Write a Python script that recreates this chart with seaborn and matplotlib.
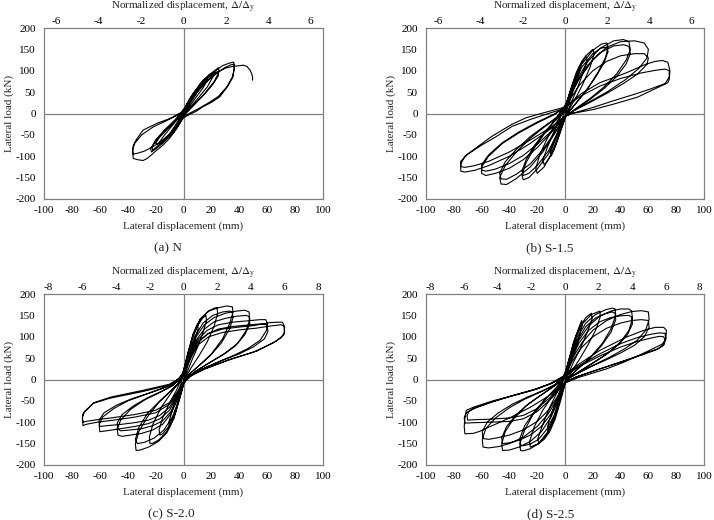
import matplotlib
matplotlib.use("Agg")
import matplotlib.pyplot as plt
import pandas as pd
import seaborn as sns

# hysteresis paths: (lateral displacement mm, lateral load kN)
n_path = [
    (0, 0), (2, 18), (5, 38), (6, 40), (5, 30), (2, 10), (0, -3), (-2, -18), (-5, -35), (-6, -36), (-5, -26), (-2, -8), (0, 3),
    (3, 25), (7, 48), (10, 60), (11, 58), (9, 45), (5, 25), (2, 8), (0, -5), (-3, -25), (-7, -45), (-10, -55), (-11, -52),
    (-8, -38), (-4, -18), (-1, -2), (0, 5),
    (4, 30), (9, 55), (13, 72), (16, 82), (17, 78), (14, 60), (9, 38), (4, 15), (0, -5), (-4, -28), (-9, -50), (-13, -63),
    (-16, -70), (-17, -66), (-14, -52), (-9, -32), (-4, -12), (0, 5),
    (5, 35), (10, 60), (15, 80), (20, 92), (21, 85), (17, 62), (11, 38), (5, 15), (0, -5), (-5, -30), (-10, -50), (-15, -65),
    (-19, -72), (-20, -70), (-17, -55), (-11, -35), (-5, -15), (0, 5),
    (6, 40), (12, 70), (18, 90), (23, 102), (25, 107), (25.5, 98), (22, 75), (16, 50), (9, 25), (3, 5), (0, -5), (-5, -30),
    (-10, -52), (-15, -70), (-20, -83), (-23, -90), (-23.5, -82), (-20, -62), (-14, -40), (-7, -18), (0, 5),
    (6, 38), (12, 65), (18, 85), (23, 96), (25, 98), (25, 88), (21, 68), (15, 45), (8, 22), (3, 5), (0, -5), (-5, -28),
    (-10, -50), (-15, -66), (-20, -80), (-22, -86), (-22.5, -78), (-19, -60), (-13, -38), (-6, -16), (0, 10),
    (6, 40), (11.6, 62), (17, 82), (23.5, 101), (28, 112), (33, 118), (36, 120), (36.5, 112), (36, 100), (35.5, 86),
    (32, 65), (26, 39), (20, 26), (14, 16), (9, 5), (4, -3), (0, -10), (-5, -35), (-10, -58), (-15, -75), (-20, -88),
    (-23, -97), (-26, -105), (-29, -110), (-33, -108), (-36, -105), (-36.5, -90), (-36, -75), (-34, -62), (-29, -39),
    (-19, -23), (-10, -12), (0, 5),
    (6, 35), (12, 58), (18, 78), (24, 95), (30, 108), (34, 114), (36, 115), (36.5, 105), (35, 85), (31, 62), (25, 40),
    (18, 25), (10, 10), (4, 0), (0, -8), (-5, -30), (-10, -48), (-16, -65), (-22, -78), (-28, -88), (-33, -93), (-36, -95),
    (-36.5, -85), (-35, -70), (-30, -50), (-22, -32), (-13, -18), (-5, -5), (0, 5),
    (6, 35), (12, 60), (18, 80), (24, 96), (30, 106), (35, 110), (40, 112), (43, 113), (45.5, 110), (47.8, 101), (49, 92),
    (49.5, 85), (49.5, 78),
]

s15_path = [
    (0, 0), (3, 40), (6, 72), (9, 98), (10, 108), (10.5, 100), (8, 75), (5, 45), (2, 15), (0, -8), (-3, -38), (-6, -68),
    (-9, -93), (-10, -100), (-10.5, -92), (-8, -68), (-5, -40), (-2, -12), (0, 10),
    (4, 55), (8, 95), (12, 122), (15, 134), (16, 125), (13, 95), (9, 60), (5, 30), (2, 5), (0, -12), (-4, -50), (-8, -85),
    (-12, -108), (-15, -120), (-16, -110), (-13, -82), (-9, -50), (-5, -22), (-2, 0), (0, 15),
    (5, 65), (10, 105), (15, 135), (20, 150), (21, 140), (18, 108), (13, 70), (8, 38), (3, 10), (0, -10), (-5, -55),
    (-10, -95), (-15, -125), (-20, -140), (-21, -128), (-18, -95), (-13, -60), (-8, -30), (-3, -5), (0, 15),
    (6, 70), (12, 115), (20, 148), (26, 162), (30, 165), (31, 155), (29, 130), (24, 98), (17, 62), (10, 32), (4, 8),
    (0, -10), (-6, -55), (-12, -95), (-20, -130), (-26, -150), (-30, -155), (-31, -145), (-28, -115), (-22, -80),
    (-15, -48), (-8, -20), (-2, 0), (0, 15),
    (6, 65), (12, 108), (20, 140), (26, 153), (30, 155), (31, 145), (28, 118), (22, 85), (15, 52), (8, 25), (3, 5),
    (0, -10), (-6, -50), (-12, -88), (-20, -122), (-26, -140), (-30, -145), (-31, -135), (-28, -108), (-22, -75),
    (-15, -45), (-8, -18), (-2, 2), (0, 18),
    (8, 75), (16, 120), (25, 152), (35, 170), (42, 173), (46, 168), (47, 150), (44, 125), (37, 92), (28, 62), (18, 35),
    (8, 12), (0, -8), (-8, -50), (-16, -90), (-25, -125), (-35, -152), (-42, -166), (-46, -165), (-47, -150), (-43, -122),
    (-35, -90), (-25, -58), (-15, -32), (-6, -10), (0, 18),
    (8, 70), (16, 112), (25, 142), (35, 158), (42, 161), (46, 157), (47, 140), (44, 116), (37, 86), (28, 58), (18, 33),
    (8, 11), (0, -8), (-8, -47), (-16, -85), (-25, -118), (-35, -142), (-42, -154), (-46, -153), (-47, -140), (-43, -113),
    (-35, -84), (-25, -54), (-15, -30), (-6, -9), (0, 18),
    (10, 80), (20, 125), (30, 155), (40, 168), (50, 170), (57, 165), (60, 150), (59, 130), (53, 105), (43, 78), (30, 50),
    (18, 28), (7, 8), (0, -8), (-10, -45), (-20, -80), (-30, -108), (-40, -128), (-50, -140), (-57, -145), (-60, -140),
    (-60, -125), (-55, -100), (-45, -70), (-33, -45), (-20, -22), (-8, -3), (0, 15),
    (10, 65), (20, 100), (30, 122), (40, 135), (50, 140), (57, 140), (60, 130), (59, 115), (52, 92), (42, 70), (30, 47),
    (18, 26), (7, 8), (0, -8), (-10, -42), (-20, -72), (-30, -98), (-40, -117), (-50, -130), (-57, -135), (-60, -132),
    (-60, -120), (-55, -97), (-45, -68), (-33, -43), (-20, -20), (-8, -2), (0, 15),
    (12, 47), (25, 72), (44, 95), (58, 115), (65, 122), (70, 124), (74, 120), (75.5, 100), (75, 80), (74, 72), (65, 58),
    (52, 38), (35, 22), (20, 9), (5, 0), (0, -6), (-10, -35), (-25, -70), (-40, -100), (-55, -122), (-65, -133),
    (-72, -137), (-75, -135), (-75, -118), (-72, -100), (-63, -78), (-52, -52), (-38, -25), (-28, -10), (-15, 2), (0, 15),
    (12, 42), (25, 64), (40, 82), (55, 95), (65, 101), (72, 104), (75, 100), (75, 85), (72, 70), (62, 58), (50, 45),
    (35, 30), (20, 14), (5, 0), (0, -6), (-10, -32), (-25, -62), (-40, -90), (-55, -112), (-65, -122), (-72, -126),
    (-75, -124), (-75, -112), (-70, -95), (-60, -74), (-50, -55), (-38, -30), (-25, -14), (-12, 0), (0, 12),
]

s20_path = [
    (0, 0), (3, 50), (6, 95), (9, 122), (10, 130), (10.5, 120), (8, 90), (5, 55), (2, 20), (0, -5), (-3, -45), (-6, -80),
    (-9, -103), (-10, -110), (-10.5, -100), (-8, -72), (-5, -40), (-2, -12), (0, 15),
    (3, 55), (6, 92), (10, 125), (14, 145), (16, 150), (16.5, 138), (14, 110), (10, 75), (6, 45), (2, 12), (0, -10),
    (-3, -45), (-7, -85), (-11, -112), (-15, -127), (-17, -130), (-17.5, -118), (-15, -90), (-10, -55), (-5, -25), (-1, 5),
    (0, 20),
    (3, 60), (7, 105), (12, 140), (18, 160), (22, 167), (24, 168), (24.5, 155), (22, 125), (17, 88), (11, 55), (5, 25),
    (1, 0), (0, -10), (-3, -45), (-7, -90), (-12, -122), (-18, -142), (-22, -149), (-24, -150), (-24.5, -135), (-22, -105),
    (-16, -65), (-9, -32), (-3, -5), (0, 20),
    (3, 60), (7, 108), (12, 142), (18, 160), (25, 168), (31, 172), (35, 170), (35.5, 158), (33, 130), (28, 95), (20, 60),
    (12, 35), (5, 15), (1, 0), (0, -12), (-3, -48), (-7, -92), (-12, -125), (-18, -145), (-25, -158), (-31, -165),
    (-34, -166), (-34.5, -150), (-32, -122), (-26, -88), (-18, -55), (-10, -30), (-4, -10), (0, 20),
    (3, 55), (8, 100), (14, 132), (21, 150), (28, 158), (33, 160), (35, 158), (35.5, 145), (33, 118), (27, 85), (19, 55),
    (11, 32), (4, 12), (0, -12), (-3, -45), (-8, -88), (-14, -118), (-21, -137), (-28, -147), (-33, -150), (-34.5, -140),
    (-32, -112), (-26, -80), (-17, -50), (-9, -26), (-3, -8), (0, 18),
    (4, 60), (9, 100), (15, 128), (22, 145), (30, 155), (38, 160), (44, 162), (47, 158), (47.5, 140), (45, 115), (39, 85),
    (30, 62), (20, 42), (10, 22), (3, 5), (0, -10), (-4, -45), (-9, -80), (-15, -105), (-22, -118), (-30, -126),
    (-38, -130), (-44, -133), (-47, -130), (-47.5, -115), (-45, -95), (-38, -70), (-28, -48), (-18, -32), (-8, -15), (0, 15),
    (4, 55), (9, 92), (15, 118), (22, 135), (30, 143), (38, 148), (45, 150), (47, 147), (47.5, 130), (44, 105), (37, 78),
    (28, 57), (18, 38), (9, 20), (3, 5), (0, -10), (-4, -42), (-9, -75), (-15, -97), (-22, -108), (-30, -115), (-38, -118),
    (-45, -120), (-47, -116), (-47.5, -102), (-44, -82), (-36, -62), (-26, -43), (-16, -28), (-7, -12), (0, 15),
    (5, 60), (10, 92), (17, 115), (25, 128), (35, 134), (45, 137), (55, 140), (59, 140), (60, 132), (59.5, 115), (55, 92),
    (46, 72), (35, 55), (24, 40), (13, 24), (5, 8), (0, -8), (-5, -42), (-10, -72), (-17, -92), (-25, -103), (-35, -110),
    (-45, -115), (-55, -120), (-60, -122), (-60.5, -105), (-58, -88), (-50, -68), (-40, -50), (-28, -36), (-16, -22),
    (-6, -8), (0, 15),
    (5, 55), (10, 85), (17, 106), (25, 118), (35, 124), (45, 127), (55, 130), (60, 128), (60.5, 112), (58, 95), (50, 76),
    (40, 60), (28, 45), (16, 28), (6, 10), (0, -8), (-5, -38), (-10, -65), (-17, -84), (-25, -95), (-35, -101), (-45, -105),
    (-55, -108), (-60, -110), (-60.5, -95), (-57, -78), (-48, -60), (-37, -45), (-25, -32), (-13, -18), (-4, -5), (0, 15),
    (5, 55), (10, 88), (18, 108), (28, 118), (38, 122), (50, 126), (62, 133), (67, 134), (71, 134), (72.5, 122), (72, 105),
    (67, 91), (53, 67), (34, 48), (15, 25), (5, 9), (0, -5), (-5, -35), (-10, -58), (-20, -78), (-35, -88), (-50, -95),
    (-62, -100), (-70, -105), (-72, -108), (-72.5, -92), (-72, -80), (-65, -56), (-53, -44), (-29, -28), (-10, -13), (0, 10),
    (5, 48), (10, 80), (18, 100), (28, 110), (40, 116), (52, 120), (62, 125), (70, 128), (72, 125), (72.5, 110), (70, 98),
    (64, 85), (50, 64), (32, 45), (15, 24), (5, 8), (0, -5), (-5, -32), (-10, -54), (-20, -72), (-35, -82), (-50, -89),
    (-62, -94), (-70, -98), (-72, -100), (-72.5, -88), (-71, -75), (-64, -54), (-52, -41), (-30, -26), (-10, -11), (0, 8),
]

s25_path = [
    (0, 0), (3, 45), (6, 85), (10, 122), (12, 138), (12.5, 128), (10, 98), (6, 60), (3, 28), (0, -5), (-3, -40), (-6, -75),
    (-10, -105), (-12, -120), (-12.5, -110), (-10, -82), (-6, -48), (-3, -20), (0, 10),
    (3, 50), (7, 95), (11, 125), (15, 145), (19, 155), (19.5, 142), (16, 110), (11, 72), (6, 40), (2, 10), (0, -10),
    (-3, -48), (-7, -92), (-11, -122), (-15, -140), (-19, -150), (-19.5, -138), (-16, -105), (-11, -65), (-6, -32),
    (-2, -5), (0, 15),
    (4, 58), (8, 100), (13, 132), (19, 152), (25, 160), (25.5, 148), (22, 115), (16, 78), (10, 45), (4, 15), (0, -10),
    (-4, -52), (-8, -95), (-13, -128), (-19, -150), (-25, -158), (-25.5, -145), (-22, -110), (-16, -72), (-9, -38),
    (-3, -10), (0, 15),
    (4, 55), (9, 100), (15, 132), (22, 152), (29, 163), (34, 167), (36, 165), (36.5, 150), (33, 118), (27, 85), (19, 55),
    (11, 30), (4, 10), (0, -8), (-4, -50), (-8, -92), (-13, -125), (-19, -150), (-25, -162), (-30, -167), (-32, -166),
    (-32.5, -150), (-29, -118), (-23, -82), (-15, -50), (-8, -25), (-2, -5), (0, 15),
    (4, 50), (9, 92), (15, 124), (22, 144), (29, 154), (34, 158), (36, 155), (36.5, 140), (33, 110), (26, 78), (18, 50),
    (10, 27), (4, 8), (0, -8), (-4, -46), (-8, -85), (-13, -116), (-19, -140), (-25, -151), (-30, -155), (-32, -153),
    (-32.5, -138), (-29, -108), (-22, -75), (-14, -45), (-7, -22), (-2, -4), (0, 15),
    (5, 55), (10, 92), (17, 125), (25, 148), (33, 160), (40, 165), (46, 165), (48, 160), (48.5, 142), (46, 115), (40, 88),
    (31, 62), (21, 40), (11, 20), (4, 5), (0, -8), (-5, -50), (-10, -88), (-17, -122), (-25, -145), (-33, -158),
    (-40, -165), (-45, -166), (-45.5, -150), (-43, -122), (-37, -92), (-28, -62), (-18, -38), (-9, -18), (-2, -2), (0, 15),
    (5, 50), (10, 85), (17, 115), (25, 135), (33, 145), (40, 149), (46, 150), (48, 146), (48.5, 130), (45, 105), (38, 80),
    (29, 57), (19, 37), (10, 18), (3, 4), (0, -8), (-5, -46), (-10, -80), (-17, -110), (-25, -130), (-33, -142),
    (-40, -148), (-45, -150), (-45.5, -136), (-42, -110), (-35, -82), (-26, -56), (-16, -34), (-8, -16), (-2, -2), (0, 15),
    (5, 48), (12, 85), (20, 115), (30, 138), (40, 152), (48, 159), (55, 161), (60, 158), (60.5, 140), (58, 115), (52, 92),
    (43, 72), (32, 52), (20, 33), (10, 16), (3, 3), (0, -8), (-5, -42), (-12, -80), (-20, -110), (-30, -135), (-40, -150),
    (-48, -157), (-55, -160), (-59, -158), (-59.5, -140), (-57, -115), (-50, -90), (-40, -66), (-29, -46), (-18, -30),
    (-8, -14), (0, 12),
    (5, 42), (12, 75), (20, 100), (30, 120), (40, 132), (48, 138), (55, 140), (60, 138), (60.5, 122), (57, 100), (50, 80),
    (40, 62), (29, 45), (18, 29), (8, 13), (2, 2), (0, -8), (-5, -38), (-12, -72), (-20, -98), (-30, -118), (-40, -130),
    (-48, -136), (-55, -140), (-59, -138), (-59.5, -122), (-56, -100), (-48, -78), (-38, -58), (-27, -41), (-16, -26),
    (-6, -10), (0, 12),
    (10, 36), (25, 68), (44, 99), (55, 113), (60, 118), (65, 122), (71, 122), (73, 115), (72.5, 95), (70, 83), (62, 70),
    (53, 56), (42, 40), (30, 25), (18, 13), (10, 5), (0, -8), (-10, -35), (-25, -65), (-40, -90), (-55, -112), (-62, -122),
    (-66, -126), (-72, -127), (-72.5, -110), (-72, -90), (-71, -72), (-66, -65), (-52, -50), (-33, -34), (-20, -22),
    (-11, -10), (0, 10),
    (10, 32), (25, 60), (40, 84), (52, 98), (62, 106), (68, 109), (72, 108), (72.5, 95), (71, 82), (67, 72), (55, 58),
    (42, 43), (30, 30), (18, 17), (8, 6), (0, -8), (-10, -45), (-20, -75), (-30, -92), (-40, -98), (-55, -100), (-65, -101),
    (-72, -102), (-72.5, -90), (-71, -78), (-66, -68), (-54, -54), (-38, -38), (-22, -24), (-10, -10), (0, 8),
    (10, 30), (25, 55), (40, 76), (52, 89), (62, 97), (68, 101), (71, 100), (72, 92), (71, 80), (66, 70), (55, 57),
    (42, 43), (30, 30), (18, 17), (8, 6), (0, -6), (-10, -40), (-20, -68), (-30, -84), (-40, -90), (-55, -93), (-65, -94),
    (-70, -95), (-70.5, -85), (-69, -74), (-64, -66), (-53, -53), (-37, -37), (-22, -23), (-10, -9), (0, 5),
]

captions = ["(a) N", "(b) S-1.5", "(c) S-2.0", "(d) S-2.5"]
paths = [n_path, s15_path, s20_path, s25_path]
disp_ticks = list(range(-100, 101, 20))
load_ticks = list(range(-200, 201, 50))
norm_ticks = [[-6, -4, -2, 0, 2, 4, 6], [-6, -4, -2, 0, 2, 4, 6],
              [-8, -6, -4, -2, 0, 2, 4, 6, 8], [-8, -6, -4, -2, 0, 2, 4, 6, 8]]
yield_disp = [15.2, 15.2, 12.1, 12.1]  # mm per unit of normalized displacement

sns.set_theme(style="white")
plt.rcParams["font.family"] = ["Liberation Serif", "DejaVu Serif"]
plt.rcParams["mathtext.fontset"] = "stix"
plt.rcParams["axes.unicode_minus"] = False

W, H = 714, 520
fig = plt.figure(figsize=(W / 100, H / 100), dpi=100)
gray = "#808080"

# panel boxes in pixels: left, top, width, height
boxes = [(44, 28, 279, 171), (426, 28, 278, 171), (44, 294, 279, 171), (426, 294, 278, 171)]
caption_x = [168, 550, 171, 551]

fs = 8
for i, (l, t, w, h) in enumerate(boxes):
    ax = fig.add_axes([l / W, 1 - (t + h) / H, w / W, h / H])
    df = pd.DataFrame(paths[i], columns=["disp", "load"])
    ax.axhline(0, color=gray, lw=0.9, zorder=1)
    ax.axvline(0, color=gray, lw=0.9, zorder=1)
    sns.lineplot(data=df, x="disp", y="load", sort=False, estimator=None,
                 color="black", linewidth=0.8, ax=ax, zorder=3)
    ax.set_xlim(-100, 100)
    ax.set_ylim(-200, 200)
    ax.set_xticks(disp_ticks)
    ax.set_yticks(load_ticks)
    ax.set_xlabel("")
    ax.set_ylabel("")
    ax.tick_params(length=0, labelsize=fs, colors="black")
    ax.tick_params(axis="x", pad=5)
    ax.tick_params(axis="y", pad=6)
    for sp in ax.spines.values():
        sp.set_color(gray)
        sp.set_linewidth(0.9)

    top = ax.twiny()
    dy = yield_disp[i]
    top.set_xlim(-100 / dy, 100 / dy)
    top.set_xticks(norm_ticks[i])
    top.tick_params(length=0, labelsize=fs, pad=1.5, colors="black")
    for sp in top.spines.values():
        sp.set_visible(False)

    cx = (l + w / 2) / W
    fig.text(cx, 1 - (t + h + 27) / H, "Lateral displacement (mm)", ha="center", va="center", fontsize=fs)
    fig.text(cx, 1 - (t - 21) / H, r"Normalized displacement, $\mathit{\Delta}/\mathit{\Delta}_\mathrm{y}$",
             ha="center", va="center", fontsize=fs)
    fig.text((l - 35) / W, 1 - (t + h / 2) / H, "Lateral load (kN)", ha="center", va="center",
             rotation=90, fontsize=fs)
    fig.text(caption_x[i] / W, 1 - (t + h + 49) / H, captions[i], ha="center", va="center", fontsize=9.5)

fig.savefig("out.png", dpi=100)
